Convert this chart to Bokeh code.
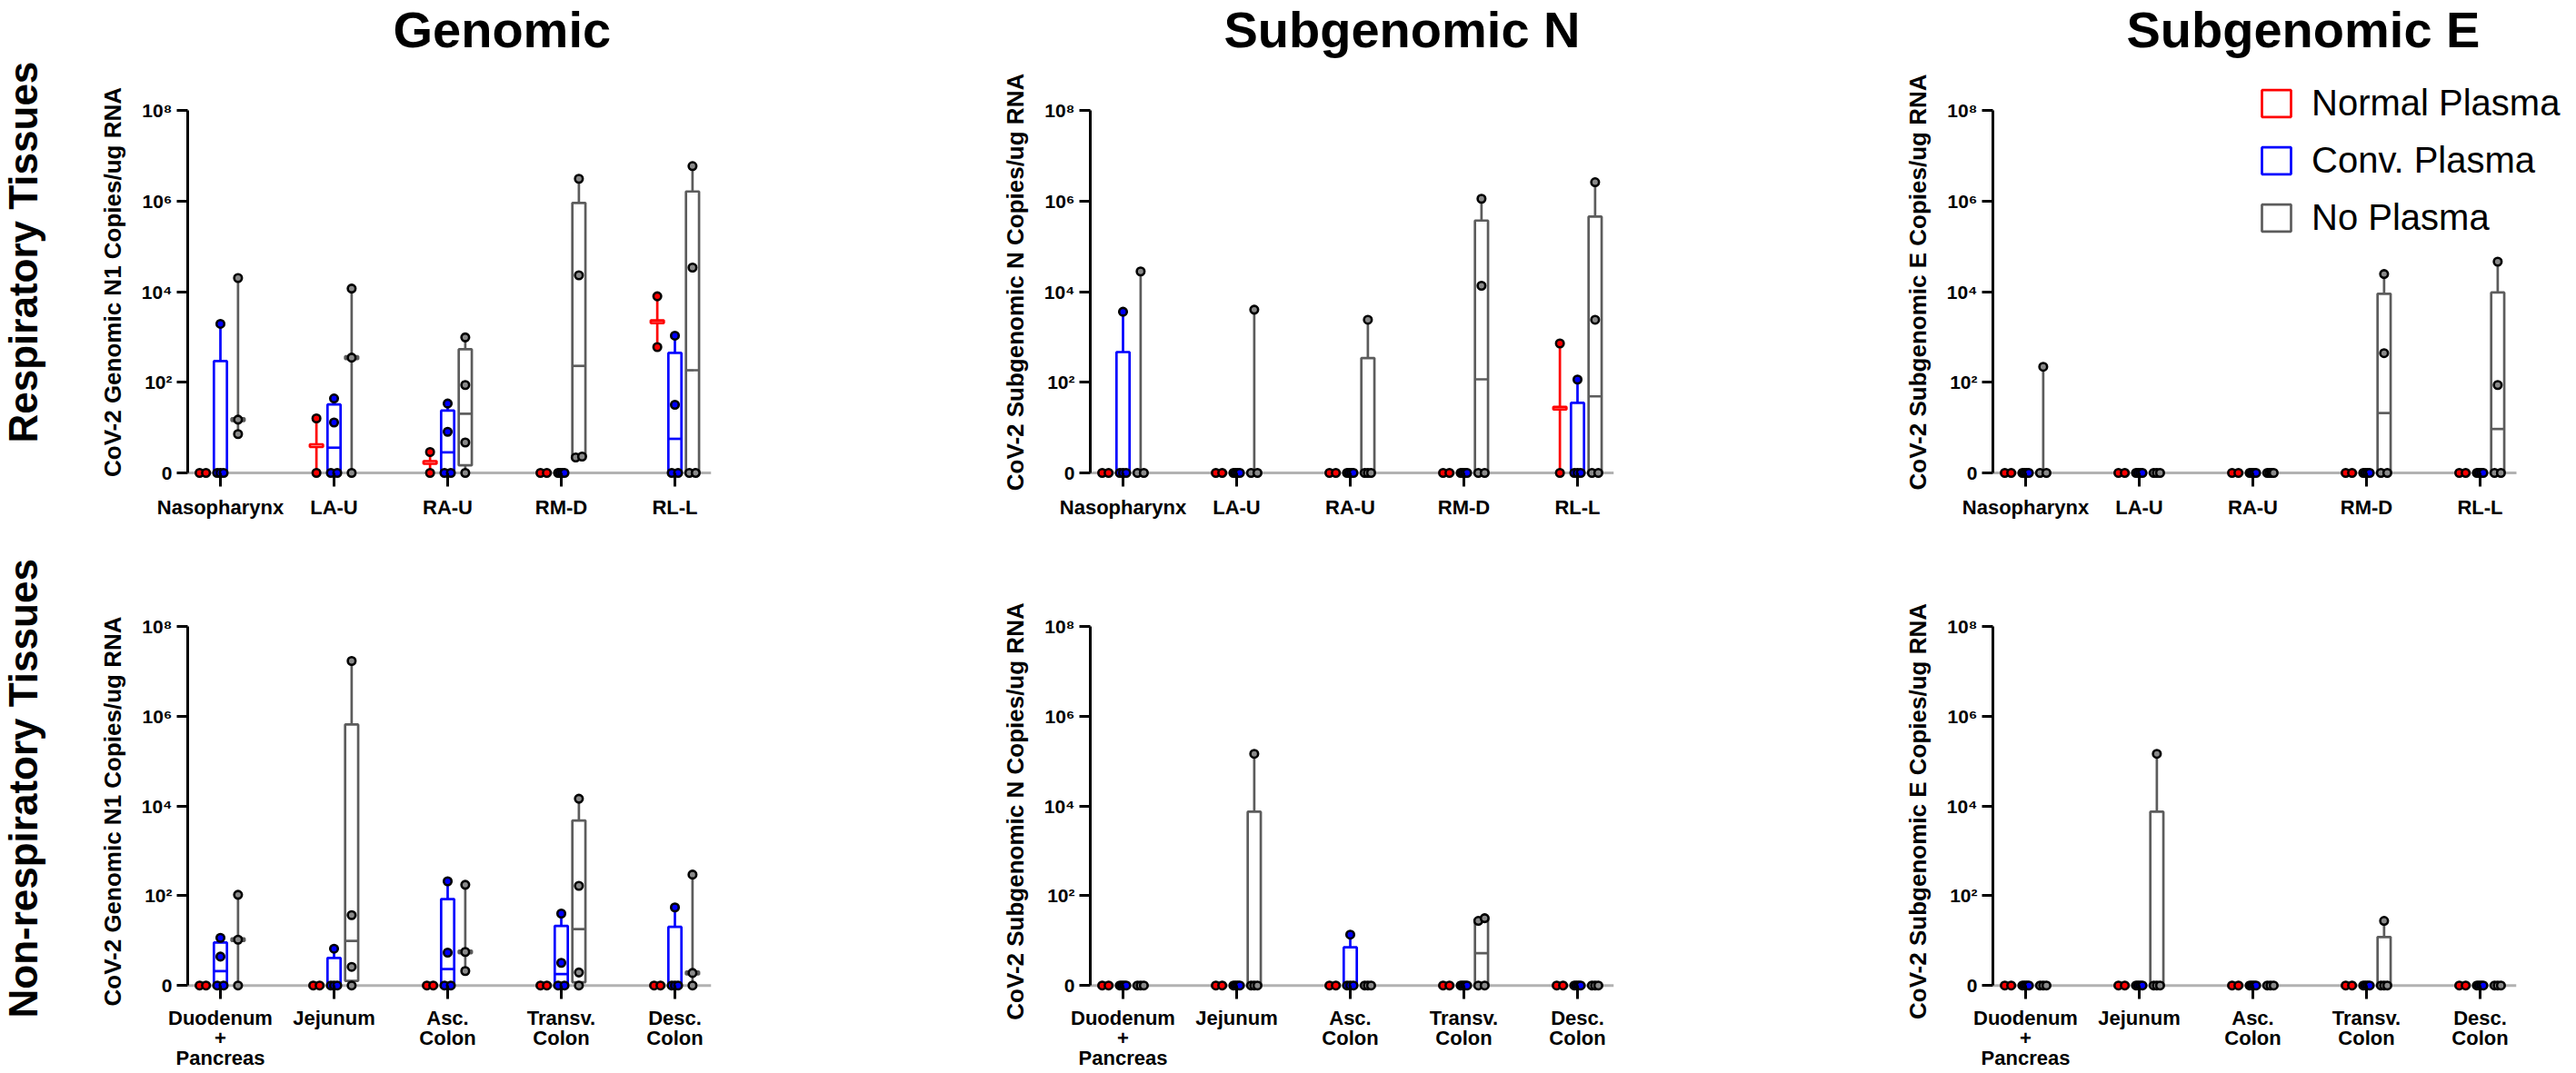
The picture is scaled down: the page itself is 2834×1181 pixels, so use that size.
import numpy as np
from bokeh.plotting import figure
from bokeh.models import (ColumnDataSource, FixedTicker, BoxAnnotation, Title,
                          Legend, LegendItem, Range1d)
from bokeh.layouts import row, column
from bokeh.embed import file_html
from bokeh.resources import INLINE

# ---------------- data: copies / ug RNA, one value per animal ----------------
resp_tissues = ["Nasopharynx", "LA-U", "RA-U", "RM-D", "RL-L"]
nonresp_tissues = ["Duodenum\n+\nPancreas", "Jejunum", "Asc.\nColon",
                   "Transv.\nColon", "Desc.\nColon"]
assays = ["Genomic", "Subgenomic N", "Subgenomic E"]
y_axis_labels = ["CoV-2 Genomic N1 Copies/ug RNA",
                 "CoV-2 Subgenomic N Copies/ug RNA",
                 "CoV-2 Subgenomic E Copies/ug RNA"]
tissue_groups = ["Respiratory Tissues", "Non-respiratory Tissues"]
treatments = ["Normal Plasma", "Conv. Plasma", "No Plasma"]
y_tick_values = [0, 2, 4, 6, 8]
y_tick_labels = ["0", "10²", "10⁴", "10⁶", "10⁸"]

# Respiratory tissues
genomic_resp_normal = [[0, 0], [0, 16], [0, 2.9], [0, 0], [600, 7900]]
genomic_resp_conv = [[0, 0, 0, 1950], [0, 0, 13, 44], [0, 0, 8.1, 34],
                     [0, 0, 0, 0], [0, 0, 32, 1070]]
genomic_resp_none = [[7.2, 15, 20000], [0, 350, 11700], [0, 4.7, 87, 980],
                     [2.2, 2.3, 23000, 3100000], [0, 0, 34000, 5900000]]

sgn_resp_normal = [[0, 0], [0, 0], [0, 0], [0, 0], [0, 720]]
sgn_resp_conv = [[0, 0, 0, 3600], [0, 0, 0, 0], [0, 0, 0, 0], [0, 0, 0, 0],
                 [0, 0, 0, 115]]
sgn_resp_none = [[0, 0, 28000], [0, 0, 4000], [0, 0, 0, 2400],
                 [0, 0, 13500, 1120000], [0, 0, 2400, 2600000]]

sge_resp_normal = [[0, 0], [0, 0], [0, 0], [0, 0], [0, 0]]
sge_resp_conv = [[0, 0, 0, 0], [0, 0, 0, 0], [0, 0, 0, 0], [0, 0, 0, 0],
                 [0, 0, 0, 0]]
sge_resp_none = [[0, 0, 220], [0, 0, 0], [0, 0, 0, 0], [0, 0, 440, 24500],
                 [0, 0, 87, 46000]]

# Non-respiratory tissues
genomic_nonresp_normal = [[0, 0], [0, 0], [0, 0], [0, 0], [0, 0]]
genomic_nonresp_conv = [[0, 0, 4.4, 11.5], [0, 0, 0, 6.6], [0, 0, 5.4, 210],
                        [0, 0, 3.2, 40], [0, 0, 0, 55]]
genomic_nonresp_none = [[0, 10.5, 105], [0, 2.6, 37, 17000000],
                        [2.1, 5.6, 175], [0, 1.95, 166, 14500], [0, 1.9, 295]]

sgn_nonresp_normal = [[0, 0], [0, 0], [0, 0], [0, 0], [0, 0]]
sgn_nonresp_conv = [[0, 0, 0, 0], [0, 0, 0, 0], [0, 0, 0, 13.6],
                    [0, 0, 0, 0], [0, 0, 0, 0]]
sgn_nonresp_none = [[0, 0, 0], [0, 0, 0, 145000], [0, 0, 0],
                    [0, 0, 27.5, 31.6], [0, 0, 0]]

sge_nonresp_normal = [[0, 0], [0, 0], [0, 0], [0, 0], [0, 0]]
sge_nonresp_conv = [[0, 0, 0, 0], [0, 0, 0, 0], [0, 0, 0, 0], [0, 0, 0, 0],
                    [0, 0, 0, 0]]
sge_nonresp_none = [[0, 0, 0], [0, 0, 0, 145000], [0, 0, 0],
                    [0, 0, 0, 27.5], [0, 0, 0]]

# ---------------- styling / layout ----------------
FONT = "Liberation Sans"
LINE_COLORS = ["#ff0000", "#0000ff", "#5c5c5c"]
DOT_COLORS = ["#ff0000", "#0000ff", "#8a8a8a"]
GROUP_OFFSET = [-0.155, 0.0, 0.155]
BOX_W = 0.115
TICK_HALF = 0.03
SPREAD = 0.028
PX_PER_CAT = 125.0
FRAME_W = 576
LABEL_COL_W = 60
TITLE_ROW_H = 80
EXTRA_TOP = [33, 0]            # top row frames reach up to hold the legend
ROW_TOP = [5, 91]
ROW_FRAME = [417 + EXTRA_TOP[0], 413]
ROW_BOTTOM = [60, 66]
COL_LEFT = [206 - LABEL_COL_W, 206, 206]
COL_RIGHT = [211, 211, 50]
COL_WIDTH = [COL_LEFT[i] + FRAME_W + COL_RIGHT[i] for i in range(3)]
TITLE_OFFSET = [372, 353, 353]
ROW_LABEL_OFFSET = [48, -21]
Y0, Y1 = -0.3, 8.06
X0 = -0.288


def to_axis(v):
    return float(np.log10(v)) if v >= 1 else 0.0


def quartile(sorted_vals, p):
    n = len(sorted_vals)
    pos = p * (n + 1)
    k = int(np.floor(pos))
    frac = pos - k
    if k < 1:
        return sorted_vals[0]
    if k >= n:
        return sorted_vals[-1]
    return sorted_vals[k - 1] + frac * (sorted_vals[k] - sorted_vals[k - 1])


def spread_positions(ys, xc):
    order = np.argsort(ys)
    xs = [xc] * len(ys)
    clusters = []
    for idx in order:
        if clusters and ys[idx] - ys[clusters[-1][0]] < 0.25:
            clusters[-1].append(idx)
        else:
            clusters.append([idx])
    for cl in clusters:
        k = len(cl)
        offs = np.linspace(-SPREAD, SPREAD, k) if k > 1 else [0.0]
        for i, off in zip(cl, offs):
            xs[i] = xc + off
    return xs


def build_panel(ci, ri, tissues, series):
    px_per_unit = (ROW_FRAME[ri] - EXTRA_TOP[ri]) / (Y1 - Y0)
    y_end = Y1 + EXTRA_TOP[ri] / px_per_unit
    wide = (ri == 0 and ci == 2)
    frame_w = FRAME_W + (COL_RIGHT[ci] if wide else 0)
    right_b = 0 if wide else COL_RIGHT[ci]
    x_axis_end = X0 + FRAME_W / PX_PER_CAT

    p = figure(frame_width=frame_w, frame_height=ROW_FRAME[ri],
               x_range=Range1d(X0, X0 + frame_w / PX_PER_CAT),
               y_range=Range1d(Y0, y_end),
               output_backend="svg", toolbar_location=None,
               min_border_left=COL_LEFT[ci], min_border_right=right_b,
               min_border_top=ROW_TOP[ri], min_border_bottom=ROW_BOTTOM[ri],
               title=None, background_fill_color="white",
               border_fill_color="white")
    p.outline_line_color = None
    p.xgrid.visible = False
    p.ygrid.visible = False

    # value-0 baseline acting as the x axis line
    p.add_layout(BoxAnnotation(left=X0, right=x_axis_end, bottom=0, top=0,
                               fill_alpha=0, line_color="black", line_width=3,
                               level="underlay"))

    xa = p.xaxis[0]
    xa.ticker = FixedTicker(ticks=list(range(len(tissues))))
    xa.major_label_overrides = {i: t for i, t in enumerate(tissues)}
    xa.axis_line_color = None
    xa.major_tick_in = 15
    xa.major_tick_out = 0
    xa.major_tick_line_width = 3
    xa.minor_tick_line_color = None
    xa.major_label_text_font = FONT
    xa.major_label_text_font_style = "bold"
    xa.major_label_text_font_size = "22px"
    xa.major_label_text_color = "black"
    xa.major_label_text_line_height = 0.88
    xa.major_label_standoff = 10 if ri == 0 else 8

    ya = p.yaxis[0]
    ya.ticker = FixedTicker(ticks=y_tick_values)
    ya.major_label_overrides = {v: l for v, l in zip(y_tick_values, y_tick_labels)}
    ya.bounds = (0, 8)
    ya.axis_line_width = 3
    ya.major_tick_line_width = 3
    ya.major_tick_out = 12
    ya.major_tick_in = 0
    ya.minor_tick_line_color = None
    ya.major_label_text_font = FONT
    ya.major_label_text_font_style = "bold"
    ya.major_label_text_font_size = "21px"
    ya.major_label_text_color = "black"
    ya.major_label_standoff = 5
    ya.axis_label = y_axis_labels[ci]
    ya.axis_label_text_font = FONT
    ya.axis_label_text_font_style = "bold"
    ya.axis_label_text_font_size = "26px"
    ya.axis_label_text_color = "black"
    ya.axis_label_standoff = 14

    point_sources = []
    box_renderers = []
    for g, by_tissue in enumerate(series):
        pts = {"x": [], "y": []}
        boxes = {"x": [], "bottom": [], "top": []}
        meds = {"x0": [], "x1": [], "y": []}
        wh = {"x": [], "y0": [], "y1": []}
        for ti, vals in enumerate(by_tissue):
            xc = ti + GROUP_OFFSET[g]
            ys = [to_axis(v) for v in vals]
            s = sorted(ys)
            n = len(s)
            med = float(np.median(s))
            boxes["x"].append(xc)
            if n >= 4:
                q1 = quartile(s, 0.25)
                q3 = quartile(s, 0.75)
                boxes["bottom"].append(q1)
                boxes["top"].append(q3)
                meds["x0"].append(xc - BOX_W / 2)
                meds["x1"].append(xc + BOX_W / 2)
                meds["y"].append(med)
                wh["x"] += [xc, xc]
                wh["y0"] += [q3, s[0]]
                wh["y1"] += [s[-1], q1]
            else:
                # too few values for quartiles: thick median mark + range line
                boxes["bottom"].append(med - TICK_HALF)
                boxes["top"].append(med + TICK_HALF)
                wh["x"].append(xc)
                wh["y0"].append(s[0])
                wh["y1"].append(s[-1])
            pts["x"] += spread_positions(ys, xc)
            pts["y"] += ys
        col = LINE_COLORS[g]
        p.segment(x0="x", y0="y0", x1="x", y1="y1", source=ColumnDataSource(wh),
                  line_color=col, line_width=2.7)
        br = p.vbar(x="x", width=BOX_W, bottom="bottom", top="top",
                    source=ColumnDataSource(boxes), fill_color="white",
                    line_color=col, line_width=2.7)
        p.segment(x0="x0", y0="y", x1="x1", y1="y",
                  source=ColumnDataSource(meds), line_color=col, line_width=2.7)
        box_renderers.append(br)
        point_sources.append((g, ColumnDataSource(pts)))

    for g, src in point_sources:
        p.scatter(x="x", y="y", source=src, marker="circle", size=8.5,
                  fill_color=DOT_COLORS[g], line_color="black", line_width=2.6)

    if wide:
        items = [LegendItem(label=treatments[g], renderers=[box_renderers[g]])
                 for g in range(3)]
        leg = Legend(items=items, location=(292, 273), orientation="vertical",
                     glyph_width=40, glyph_height=37, label_standoff=19,
                     label_text_font=FONT, label_text_font_size="40px",
                     label_text_color="black", label_height=37, spacing=18,
                     padding=0, margin=0, border_line_color=None,
                     background_fill_alpha=0)
        p.add_layout(leg)
    return p


def title_figure(ci):
    f = figure(width=COL_WIDTH[ci], height=TITLE_ROW_H, x_axis_type=None,
               y_axis_type=None, output_backend="svg", toolbar_location=None,
               min_border=0, title=None)
    f.outline_line_color = None
    f.add_layout(Title(text=assays[ci], align="left", offset=TITLE_OFFSET[ci],
                       vertical_align="top", standoff=0,
                       text_font=FONT, text_font_style="bold",
                       text_font_size="56px", text_color="black"), "above")
    return f


def row_label_figure(ri):
    top_b = ROW_TOP[ri] + (TITLE_ROW_H if ri == 0 else 0)
    h = top_b + ROW_FRAME[ri] + ROW_BOTTOM[ri]
    f = figure(width=LABEL_COL_W, height=h, x_axis_type=None, y_axis_type=None,
               output_backend="svg", toolbar_location=None, title=None,
               min_border_left=0, min_border_right=0,
               min_border_top=top_b, min_border_bottom=ROW_BOTTOM[ri])
    f.outline_line_color = None
    f.add_layout(Title(text=tissue_groups[ri], align="left",
                       offset=ROW_LABEL_OFFSET[ri],
                       vertical_align="top", standoff=0,
                       text_font=FONT, text_font_style="bold",
                       text_font_size="44px", text_color="black"), "left")
    return f


panels_resp = [
    [genomic_resp_normal, genomic_resp_conv, genomic_resp_none],
    [sgn_resp_normal, sgn_resp_conv, sgn_resp_none],
    [sge_resp_normal, sge_resp_conv, sge_resp_none],
]
panels_nonresp = [
    [genomic_nonresp_normal, genomic_nonresp_conv, genomic_nonresp_none],
    [sgn_nonresp_normal, sgn_nonresp_conv, sgn_nonresp_none],
    [sge_nonresp_normal, sge_nonresp_conv, sge_nonresp_none],
]

titles = [title_figure(ci) for ci in range(3)]
top = [build_panel(ci, 0, resp_tissues, panels_resp[ci]) for ci in range(3)]
bottom = [build_panel(ci, 1, nonresp_tissues, panels_nonresp[ci]) for ci in range(3)]

labels_col = column(row_label_figure(0), row_label_figure(1))
main_col = column(row(*titles), row(*top), row(*bottom))
layout = row(labels_col, main_col)
open("out.html", "w").write(file_html(layout, INLINE))
